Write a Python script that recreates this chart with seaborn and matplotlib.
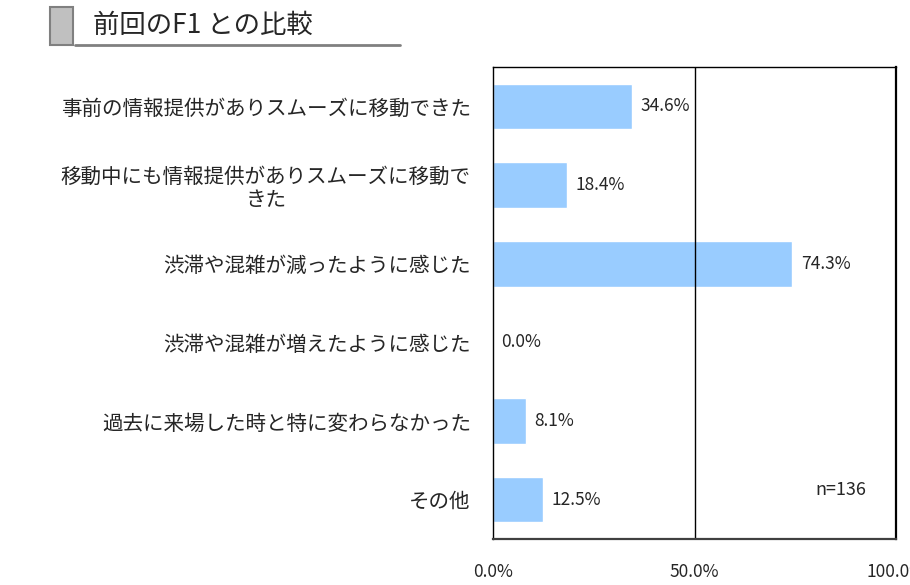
import numpy as np
import pandas as pd
import matplotlib
matplotlib.use("Agg")
import matplotlib.pyplot as plt
import seaborn as sns
from matplotlib.patches import Rectangle
from matplotlib.lines import Line2D

# data
categories = [
    "事前の情報提供がありスムーズに移動できた",
    "移動中にも情報提供がありスムーズに移動で\nきた",
    "渋滞や混雑が減ったように感じた",
    "渋滞や混雑が増えたように感じた",
    "過去に来場した時と特に変わらなかった",
    "その他",
]
values = [34.6, 18.4, 74.3, 0.0, 8.1, 12.5]
x_ticks = [0, 50, 100]
x_tick_labels = ["0.0%", "50.0%", "100.0%"]
title = "前回のF1 との比較"
n_note = "n=136"

sns.set_style("white")
plt.rcParams["font.family"] = ["Noto Sans CJK JP", "DejaVu Sans"]

df = pd.DataFrame({"item": categories, "pct": values})

fig = plt.figure(figsize=(9.1, 5.85), dpi=100)
ax = fig.add_axes([0.5418, 0.0786, 0.4429, 0.8068])

sns.barplot(data=df, x="pct", y="item", color="#99CCFF", saturation=1,
            width=0.58, ax=ax)

ax.set_xlim(0, 100)
ax.set_xticks(x_ticks)
ax.set_xticklabels(x_tick_labels, fontsize=12.5)
ax.set_xlabel("")
ax.set_ylabel("")
ax.axvline(50, color="black", lw=1)

for s in ax.spines.values():
    s.set_visible(True)
    s.set_color("black")
    s.set_linewidth(1)
ax.spines["right"].set_linewidth(1.6)
ax.spines["bottom"].set_linewidth(1.6)
ax.spines["bottom"].set_color("#404040")

ax.tick_params(axis="x", length=0, pad=17)
ax.tick_params(axis="y", which="major", length=0, pad=16, labelsize=14.8)
ax.set_yticks(np.arange(0.5, len(categories) - 1, 1), minor=True)
ax.tick_params(axis="y", which="minor", direction="in", length=6,
               width=1, color="black")
for lab in ax.get_yticklabels():
    lab.set_multialignment("center")
    lab.set_linespacing(1.1)

ax.bar_label(ax.containers[0], fmt="{:.1f}%", padding=6, fontsize=12.5)

ax.text(0.80, 0.104, n_note, transform=ax.transAxes, fontsize=13,
        va="center", ha="left")

# title block
fig.patches.append(Rectangle((50 / 910, 1 - 45 / 585), 23 / 910, 38 / 585,
                             transform=fig.transFigure, facecolor="#C0C0C0",
                             edgecolor="#808080", lw=1.5))
fig.lines.append(Line2D([75 / 910, 400 / 910], [1 - 44.5 / 585] * 2,
                        transform=fig.transFigure, color="#808080", lw=2))
fig.text(93 / 910, 1 - 25 / 585, title, fontsize=19, va="center", ha="left")

fig.savefig("out.png", dpi=100)
